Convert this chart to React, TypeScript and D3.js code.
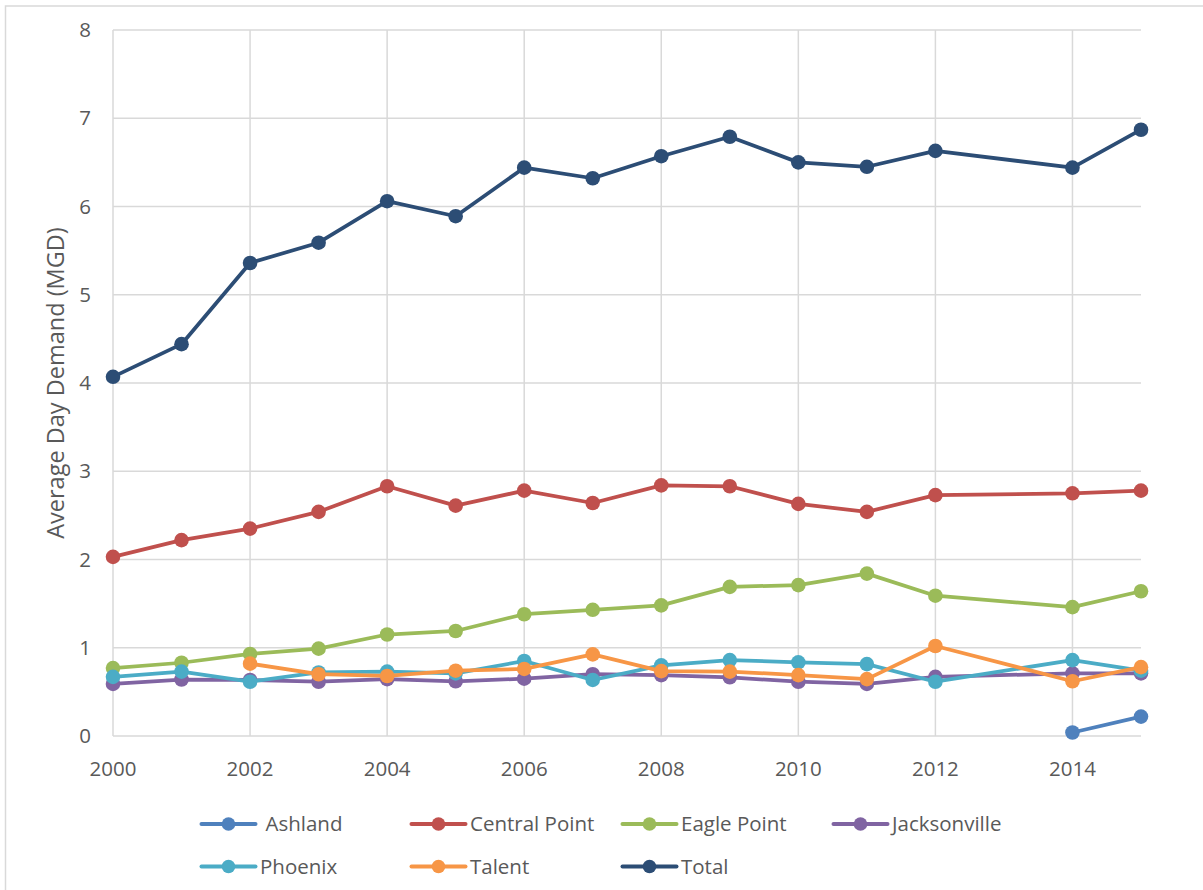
import React from "react";
import * as d3 from "d3";

// Years with recorded demand (no 2013 record)
const years = [2000, 2001, 2002, 2003, 2004, 2005, 2006, 2007, 2008, 2009, 2010, 2011, 2012, 2014, 2015];

const ashland: (number | null)[] = [null, null, null, null, null, null, null, null, null, null, null, null, null, 0.04, 0.22];
const centralPoint: (number | null)[] = [2.03, 2.22, 2.35, 2.54, 2.83, 2.61, 2.78, 2.64, 2.84, 2.83, 2.63, 2.54, 2.73, 2.75, 2.78];
const eaglePoint: (number | null)[] = [0.77, 0.83, 0.93, 0.99, 1.15, 1.19, 1.38, 1.43, 1.48, 1.69, 1.71, 1.84, 1.59, 1.46, 1.64];
const jacksonville: (number | null)[] = [0.59, 0.64, 0.635, 0.615, 0.645, 0.62, 0.65, 0.70, 0.69, 0.665, 0.615, 0.59, 0.67, 0.71, 0.71];
const phoenix: (number | null)[] = [0.67, 0.73, 0.615, 0.72, 0.73, 0.71, 0.85, 0.635, 0.80, 0.86, 0.835, 0.815, 0.615, 0.86, 0.74];
const talent: (number | null)[] = [null, null, 0.82, 0.70, 0.68, 0.74, 0.76, 0.925, 0.735, 0.73, 0.69, 0.645, 1.02, 0.62, 0.78];
const total: (number | null)[] = [4.07, 4.44, 5.36, 5.59, 6.06, 5.89, 6.44, 6.32, 6.57, 6.79, 6.50, 6.45, 6.63, 6.44, 6.87];

const seriesNames = ["Ashland", "Central Point", "Eagle Point", "Jacksonville", "Phoenix", "Talent", "Total"];
const seriesValues = [ashland, centralPoint, eaglePoint, jacksonville, phoenix, talent, total];
const seriesColors = ["#4F81BD", "#C0504D", "#9BBB59", "#8064A2", "#4BACC6", "#F79646", "#2C4D75"];

const xTicks = [2000, 2002, 2004, 2006, 2008, 2010, 2012, 2014];
const yTicks = [0, 1, 2, 3, 4, 5, 6, 7, 8];

const W = 1203;
const H = 890;
const plot = { left: 113, right: 1141, top: 30, bottom: 736 };

export default function App() {
  const x = d3.scaleLinear().domain([2000, 2015]).range([plot.left, plot.right]);
  const y = d3.scaleLinear().domain([0, 8]).range([plot.bottom, plot.top]);

  const series = seriesNames.map((name, i) => ({
    name,
    color: seriesColors[i],
    points: years
      .map((yr, j) => ({ yr, v: seriesValues[i][j] }))
      .filter((p) => p.v !== null) as { yr: number; v: number }[],
  }));

  const line = d3
    .line<{ yr: number; v: number }>()
    .x((d) => x(d.yr))
    .y((d) => y(d.v));

  const font = "'Open Sans', 'DejaVu Sans', sans-serif";
  const textColor = "#595959";
  const gridColor = "#D9D9D9";

  // legend layout: 4 entries per row
  const legendCols = [201.5, 411.5, 622.5, 833.5];
  const legendRows = [824, 866.5];
  const legendLine = 54;

  return (
    <svg
      width={W}
      height={H}
      style={{ position: "absolute", left: 0, top: 0, background: "#fff" }}
      fontFamily={font}
    >
      <rect x={5.5} y={6} width={W + 100} height={H + 100} fill="#fff" stroke={gridColor} strokeWidth={1.5} />

      {/* gridlines */}
      {yTicks.map((t) => (
        <line key={"gy" + t} x1={plot.left} x2={plot.right} y1={y(t)} y2={y(t)} stroke={gridColor} strokeWidth={1.5} />
      ))}
      {xTicks.map((t) => (
        <line key={"gx" + t} x1={x(t)} x2={x(t)} y1={plot.top} y2={plot.bottom} stroke={gridColor} strokeWidth={1.5} />
      ))}

      {/* y tick labels */}
      {yTicks.map((t) => (
        <text key={"ty" + t} x={91} y={y(t)} dy="0.35em" textAnchor="end" fontSize={20.5} fill={textColor}>
          {t}
        </text>
      ))}
      {/* x tick labels */}
      {xTicks.map((t) => (
        <text key={"tx" + t} x={x(t)} y={776} textAnchor="middle" fontSize={20.5} fill={textColor}>
          {t}
        </text>
      ))}

      {/* y axis title */}
      <text
        transform={`translate(64, ${(plot.top + plot.bottom) / 2}) rotate(-90)`}
        textAnchor="middle"
        fontSize={23.5}
        fill={textColor}
      >
        Average Day Demand (MGD)
      </text>

      {/* series */}
      {series.map((s) => (
        <g key={s.name}>
          <path d={line(s.points) || ""} fill="none" stroke={s.color} strokeWidth={3.75} strokeLinejoin="round" />
          {s.points.map((p) => (
            <circle key={p.yr} cx={x(p.yr)} cy={y(p.v)} r={7.3} fill={s.color} />
          ))}
        </g>
      ))}

      {/* legend */}
      {series.map((s, i) => {
        const col = i % 4;
        const row = Math.floor(i / 4);
        const lx = legendCols[col];
        const ly = legendRows[row];
        const tx = lx + legendLine + (i === 0 ? 10 : 4.5);
        return (
          <g key={"lg" + s.name}>
            <line x1={lx} x2={lx + legendLine} y1={ly} y2={ly} stroke={s.color} strokeWidth={4} strokeLinecap="round" />
            <circle cx={lx + legendLine / 2} cy={ly} r={6.8} fill={s.color} />
            <text x={tx} y={ly} dy="0.36em" fontSize={20.5} fill={textColor}>
              {s.name}
            </text>
          </g>
        );
      })}
    </svg>
  );
}
